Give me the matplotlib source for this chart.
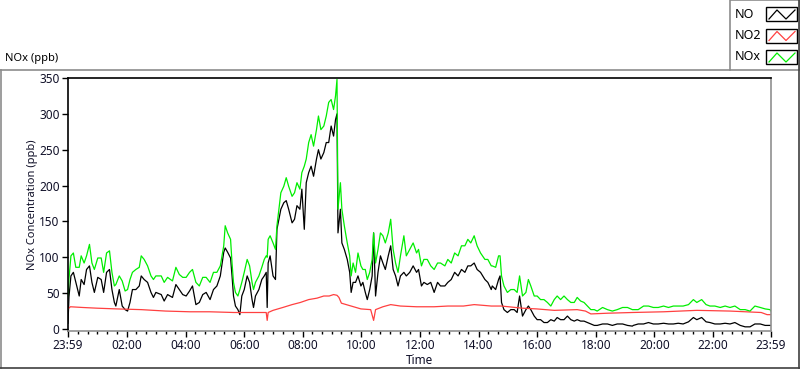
import numpy as np
import matplotlib.pyplot as plt
from matplotlib.lines import Line2D
from matplotlib.patches import Rectangle

plt.rcParams['font.family'] = ['Noto Sans', 'DejaVu Sans']

# minutes after 23:59 of the previous day
t_nox = [0, 2, 6, 11, 16, 23, 27, 33, 38, 44, 49, 54, 61, 68, 73, 79, 85, 90, 95, 98,
         105, 111, 117, 122, 127, 132, 139, 146, 150, 156, 163, 170, 175, 180, 191, 197,
         204, 214, 221, 228, 235, 242, 249, 255, 262, 269, 276, 283, 291,
         298, 305, 312, 319, 322, 327, 333, 336, 339, 343, 348, 352, 356, 361, 367, 372,
         377, 380, 384, 391, 397, 402, 406, 408, 410, 414, 420, 425, 428, 432, 436, 442,
         447, 452, 459, 464, 469, 475, 479, 484, 488, 493, 498, 503, 509, 513, 518, 524,
         529, 534, 539, 544, 548, 551, 553, 558, 561, 566, 572, 577, 580,
         584, 589, 594, 600, 604, 609, 613, 618, 623, 626, 630, 635, 640, 645, 650, 656,
         661, 666, 671, 676, 681, 688, 693, 700, 707, 714, 718, 724, 729, 736, 743, 750,
         757, 763, 772, 778, 785, 792, 799, 806, 813, 819, 825, 832, 838, 845, 854, 860, 867,
         869, 876, 882, 885, 888, 893, 900, 907, 914, 920, 925, 931, 938, 943, 948, 955,
         961, 968, 975, 982, 989, 996, 1002, 1009, 1016, 1023, 1030, 1037, 1043, 1050,
         1057, 1064, 1071, 1078, 1084, 1095, 1105, 1115, 1125, 1136, 1146, 1156,
         1158, 1168, 1179, 1189, 1199, 1209, 1220, 1230, 1240, 1250, 1260, 1271, 1281,
         1288, 1298, 1307, 1315, 1325, 1336, 1346, 1356, 1366, 1377, 1387, 1397, 1407,
         1418, 1428, 1438, 1440]

nox_vals = [45, 70, 102, 106, 86, 86, 102, 92, 102, 118, 92, 83, 99, 99, 79, 106, 109, 79, 60, 62,
            74, 67, 53, 55, 69, 79, 83, 86, 102, 97, 88, 74, 69, 74, 74, 65,
            72, 67, 86, 76, 72, 72, 79, 83, 65, 60, 72, 72, 65,
            79, 79, 88, 116, 144, 134, 125, 92, 65, 51, 46, 55, 65, 79, 97, 88,
            65, 55, 65, 74, 86, 97, 102, 100, 125, 130, 120, 111, 144, 167, 190, 199,
            211, 199, 185, 190, 204, 195, 218, 227, 237, 260, 271, 255, 278, 297, 278, 283,
            297, 316, 320, 306, 325, 348, 167, 204, 167, 144, 120, 102, 74,
            92, 79, 106, 88, 83, 83, 69, 79, 97, 134, 92, 111, 134, 130, 120, 134,
            153, 111, 92, 79, 102, 130, 102, 111, 120, 106, 111, 88, 97, 97, 88, 83,
            92, 92, 88, 97, 92, 106, 102, 116, 116, 125, 120, 130, 116, 106, 97, 97, 88,
            88, 86, 102, 102, 74, 60, 51, 55, 55, 51, 74, 46, 51, 69, 60, 46,
            46, 41, 41, 37, 32, 41, 46, 41, 46, 41, 37, 37, 44, 39,
            37, 32, 27, 27, 25, 30, 27, 25, 27, 30, 30, 27,
            27, 27, 32, 32, 30, 30, 32, 30, 32, 32, 32, 34, 41,
            37, 41, 34, 32, 32, 30, 32, 30, 32, 27, 27, 25, 32,
            30, 28, 27, 25]

no_vals = [8, 45, 74, 79, 65, 46, 69, 62, 83, 88, 65, 51, 72, 69, 51, 79, 83, 55, 37, 32,
           55, 32, 27, 25, 37, 55, 55, 60, 74, 69, 65, 51, 44, 51, 48, 39,
           48, 44, 62, 55, 48, 46, 53, 60, 34, 37, 48, 51, 41,
           55, 60, 74, 107, 113, 107, 99, 74, 46, 32, 27, 20, 46, 55, 74, 65,
           41, 30, 46, 55, 69, 74, 79, 30, 92, 102, 74, 69, 139, 153, 167, 176,
           179, 167, 148, 153, 172, 167, 195, 139, 204, 218, 227, 213, 237, 250, 237, 246,
           260, 260, 283, 269, 292, 300, 134, 167, 120, 111, 97, 79, 51,
           65, 65, 74, 60, 65, 51, 41, 55, 74, 134, 46, 79, 102, 92, 83, 102,
           116, 83, 74, 60, 74, 79, 74, 79, 88, 79, 83, 60, 65, 62, 65, 51,
           65, 60, 60, 65, 69, 79, 74, 83, 79, 88, 88, 92, 83, 79, 69, 65, 55,
           60, 55, 69, 74, 37, 27, 23, 27, 27, 23, 46, 18, 27, 32, 27, 18,
           13, 13, 9, 9, 13, 11, 16, 13, 13, 18, 13, 11, 13, 11,
           11, 9, 7, 5, 5, 7, 7, 5, 7, 7, 5, 4,
           5, 7, 7, 9, 7, 7, 8, 7, 7, 8, 7, 10, 16,
           13, 16, 10, 9, 7, 7, 8, 7, 9, 5, 3, 3, 7,
           7, 5, 5, 5]

t_no2 = [0, 5, 30, 60, 100, 150, 200, 250, 290, 340, 380, 406, 408, 410, 420, 440, 459, 476,
         493, 510, 524, 535, 544, 551, 555, 560, 580, 600, 620, 626, 630, 645, 661, 681, 714,
         750, 778, 810, 832, 850, 867, 888, 931, 960, 996, 1043, 1060, 1071, 1105, 1156,
         1220, 1288, 1356, 1420, 1432, 1440]
no2_vals = [28, 31, 30, 29, 28, 27, 25, 24, 24, 23, 23, 23, 12, 23, 26, 30, 34, 37,
            41, 43, 46, 46, 48, 47, 44, 36, 32, 28, 27, 12, 27, 31, 34, 32, 31,
            31, 32, 32, 34, 33, 32, 32, 29, 28, 26, 27, 25, 21, 22, 23,
            24, 26, 25, 23, 20, 20]

x_ticks = [0, 121, 241, 361, 481, 601, 721, 841, 961, 1081, 1201, 1321, 1440]
x_labels = ['23:59', '02:00', '04:00', '06:00', '08:00', '10:00', '12:00',
            '14:00', '16:00', '18:00', '20:00', '22:00', '23:59']
y_ticks = [0, 50, 100, 150, 200, 250, 300, 350]

series_names = ['NO', 'NO2', 'NOx']
series_colors = ['black', '#ff4040', '#00ee00']

W, H = 800, 369
fig = plt.figure(figsize=(8, 3.69), dpi=100)

def fx(x):
    return x / W

def fy(y):
    return 1 - y / H

ax = fig.add_axes([fx(68), fy(331), fx(771) - fx(68), fy(78) - fy(331)])
ax.plot(t_nox, no_vals, color=series_colors[0], lw=0.9)
ax.plot(t_no2, no2_vals, color=series_colors[1], lw=0.9)
ax.plot(t_nox, nox_vals, color=series_colors[2], lw=0.9)

ax.set_xlim(0, 1440)
ax.set_ylim(-2.8, 350)
ax.set_xticks(x_ticks)
ax.set_xticklabels(x_labels)
minors = [m for m in range(20, 1440, 20) if min(abs(m - t) for t in x_ticks) > 5]
ax.set_xticks(minors, minor=True)
ax.set_yticks(y_ticks)
ax.tick_params(axis='both', which='major', length=4, width=1, color='black',
               labelsize=8.5, labelcolor='#101028', pad=2)
ax.tick_params(axis='x', which='minor', length=2.5, width=1, color='black')

ax.spines['top'].set_color('black')
ax.spines['left'].set_color('black')
ax.spines['bottom'].set_color('#909090')
ax.spines['right'].set_color('#909090')
for s in ax.spines.values():
    s.set_linewidth(1.2)

ax.set_xlabel('Time', fontsize=8.5, labelpad=1, color='#101028')
ax.set_ylabel('NOx Concentration (ppb)', fontsize=8, labelpad=1, color='#101028')

fig.text(fx(5), fy(58), 'NOx (ppb)', fontsize=8, va='center', ha='left')

# panel frame
gray = '#8c8c8c'
fig.add_artist(Line2D([fx(0), fx(730)], [fy(69.5), fy(69.5)], color=gray, lw=1.2))
fig.add_artist(Line2D([fx(0.8), fx(0.8)], [fy(69.5), fy(368)], color=gray, lw=1.2))
fig.add_artist(Line2D([fx(0), fx(800)], [fy(367.5), fy(367.5)], color='#404040', lw=1.2))
fig.add_artist(Line2D([fx(799.2), fx(799.2)], [fy(0), fy(368)], color='#404040', lw=1.2))

# legend
fig.add_artist(Rectangle((fx(730), fy(69.5)), fx(800) - fx(730), fy(0) - fy(69.5),
                         fill=False, edgecolor=gray, lw=1.2))
for i, (name, col) in enumerate(zip(series_names, series_colors)):
    yc = 14 + i * 21.5
    fig.text(fx(735), fy(yc), name, fontsize=9, va='center', ha='left')
    fig.add_artist(Rectangle((fx(766), fy(yc + 7)), fx(31), fy(0) - fy(14),
                             facecolor='white', edgecolor='black', lw=1.0))
    gx = [769, 777, 786, 795]
    gy = [yc + 5, yc - 4, yc + 5, yc - 4]
    fig.add_artist(Line2D([fx(v) for v in gx], [fy(v) for v in gy], color=col, lw=0.9))

fig.savefig('out.png', dpi=100)
